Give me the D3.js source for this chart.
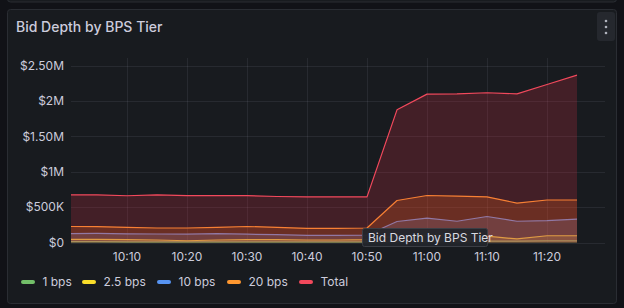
<!DOCTYPE html>
<html>
<head>
<meta charset="utf-8">
<script src="https://cdn.jsdelivr.net/npm/d3@7"></script>
<style>
  html, body { margin: 0; padding: 0; background: #111217; }
  svg { display: block; font-family: Inter, "Open Sans", sans-serif; }
</style>
</head>
<body>
<svg id="chart" width="624" height="308"></svg>
<script>
// sample times, every 5 minutes
var times = ["10:00","10:05","10:10","10:15","10:20","10:25","10:30","10:35","10:40","10:45",
             "10:50","10:55","11:00","11:05","11:10","11:15","11:20","11:25"];

// values in $M
var bps1   = [0.012,0.012,0.010,0.010,0.008,0.010,0.010,0.010,0.010,0.010,0.010,0.020,0.025,0.025,0.020,0.020,0.025,0.025];
var bps2_5 = [0.045,0.045,0.040,0.035,0.025,0.035,0.040,0.040,0.035,0.035,0.040,0.090,0.100,0.110,0.090,0.050,0.095,0.095];
var bps10  = [0.125,0.128,0.122,0.120,0.118,0.125,0.118,0.110,0.100,0.102,0.105,0.297,0.345,0.300,0.367,0.300,0.310,0.330];
var bps20  = [0.226,0.225,0.215,0.205,0.205,0.215,0.226,0.215,0.200,0.200,0.205,0.593,0.664,0.655,0.645,0.556,0.600,0.600];
var total  = [0.674,0.672,0.660,0.674,0.662,0.662,0.662,0.650,0.645,0.645,0.645,1.874,2.096,2.100,2.115,2.100,2.232,2.364];

var seriesNames = ["1 bps", "2.5 bps", "10 bps", "20 bps", "Total"];
var seriesValues = [bps1, bps2_5, bps10, bps20, total];
var seriesColors = ["#73BF69", "#FADE2A", "#5794F2", "#FF9830", "#F2495C"];
var fillColors   = ["#73BF69", "#FADE2A", "#5794F2", "#FF780A", "#E02F44"];

var yTicks = [0, 0.5, 1, 1.5, 2, 2.5];
var xTickLabels = ["10:10","10:20","10:30","10:40","10:50","11:00","11:10","11:20"];

var parseT = d3.timeParse("%H:%M");
var parseTs = d3.timeParse("%H:%M:%S");

var svg = d3.select("#chart");

// panel
svg.append("rect")
    .attr("x", 7.5).attr("y", 9.5)
    .attr("width", 609).attr("height", 294)
    .attr("rx", 3)
    .attr("fill", "#181b1f")
    .attr("stroke", "#2a2d33");

// bit of the panel above
svg.append("rect")
    .attr("x", 7.5).attr("y", -10)
    .attr("width", 609).attr("height", 12)
    .attr("rx", 3)
    .attr("fill", "#181b1f")
    .attr("stroke", "#2a2d33");

svg.append("text")
    .attr("x", 16).attr("y", 32)
    .attr("fill", "#ccccdc")
    .attr("font-size", 14)
    .attr("font-weight", 500)
    .text("Bid Depth by BPS Tier");

// menu button
svg.append("rect")
    .attr("x", 597).attr("y", 12)
    .attr("width", 18).attr("height", 29)
    .attr("rx", 3)
    .attr("fill", "#25282e");
[21, 27, 33].forEach(function(cy) {
  svg.append("circle").attr("cx", 606).attr("cy", cy).attr("r", 1.3).attr("fill", "#b0b3bd");
});

var x = d3.scaleTime()
    .domain([parseTs("10:00:40"), parseTs("11:29:40")])
    .range([71, 605]);

var y = d3.scaleLinear()
    .domain([0, 2.5])
    .range([242.5, 65.5]);

var plotTop = 58, plotBottom = 242.5;

// grid
var grid = svg.append("g").attr("stroke", "rgba(204,204,220,0.09)").attr("stroke-width", 1);
yTicks.forEach(function(t) {
  grid.append("line")
      .attr("x1", 71).attr("x2", 605)
      .attr("y1", Math.round(y(t)) + 0.5).attr("y2", Math.round(y(t)) + 0.5);
});
xTickLabels.forEach(function(t) {
  var px = Math.round(x(parseT(t))) + 0.5;
  grid.append("line")
      .attr("x1", px).attr("x2", px)
      .attr("y1", plotTop).attr("y2", plotBottom);
});

// axes labels
var fmt = function(v) {
  if (v === 0) return "$0";
  if (v < 1) return "$" + Math.round(v * 1000) + "K";
  return Number.isInteger(v) ? "$" + v + "M" : "$" + v.toFixed(2) + "M";
};
svg.append("g").selectAll("text")
  .data(yTicks)
  .enter().append("text")
    .attr("x", 64)
    .attr("y", function(d) { return y(d); })
    .attr("dy", "0.35em")
    .attr("text-anchor", "end")
    .attr("fill", "#ccccdc")
    .attr("font-size", 12)
    .text(fmt);

svg.append("g").selectAll("text")
  .data(xTickLabels)
  .enter().append("text")
    .attr("x", function(d) { return x(parseT(d)); })
    .attr("y", 261)
    .attr("text-anchor", "middle")
    .attr("fill", "#ccccdc")
    .attr("font-size", 12)
    .text(function(d) { return d; });

// clip
svg.append("clipPath").attr("id", "plotclip")
  .append("rect").attr("x", 71).attr("y", 0).attr("width", 534).attr("height", 243);

var plot = svg.append("g").attr("clip-path", "url(#plotclip)");

var area = d3.area()
    .x(function(d, i) { return x(parseT(times[i])); })
    .y0(y(0))
    .y1(function(d) { return y(d); });
var line = d3.line()
    .x(function(d, i) { return x(parseT(times[i])); })
    .y(function(d) { return y(d); });

// each series draws fill then line, in legend order
seriesValues.forEach(function(vals, k) {
  plot.append("path")
      .datum(vals)
      .attr("d", area)
      .attr("fill", fillColors[k])
      .attr("fill-opacity", 0.22);
  plot.append("path")
      .datum(vals)
      .attr("d", line)
      .attr("fill", "none")
      .attr("stroke", seriesColors[k])
      .attr("stroke-width", 1.2)
      .attr("stroke-linejoin", "round");
});

// tooltip label
var tip = svg.append("g");
tip.append("rect")
    .attr("x", 362.5).attr("y", 228.5)
    .attr("width", 125).attr("height", 18)
    .attr("rx", 2)
    .attr("fill", "#22252b")
    .attr("fill-opacity", 0.95)
    .attr("stroke", "#3b3e45");
tip.append("text")
    .attr("x", 368).attr("y", 241.5)
    .attr("fill", "#d8d9e0")
    .attr("font-size", 12)
    .text("Bid Depth by BPS Tier");

// legend
var legendX = [21, 82, 157, 227, 299];
var lg = svg.append("g").selectAll("g")
  .data(seriesNames)
  .enter().append("g")
    .attr("transform", function(d, i) { return "translate(" + legendX[i] + ",282)"; });
lg.append("rect")
    .attr("x", 0).attr("y", -2)
    .attr("width", 14).attr("height", 4)
    .attr("rx", 2)
    .attr("fill", function(d, i) { return seriesColors[i]; });
lg.append("text")
    .attr("x", 21.5)
    .attr("dy", "0.35em")
    .attr("fill", "#ccccdc")
    .attr("font-size", 12)
    .text(function(d) { return d; });
</script>
</body>
</html>
